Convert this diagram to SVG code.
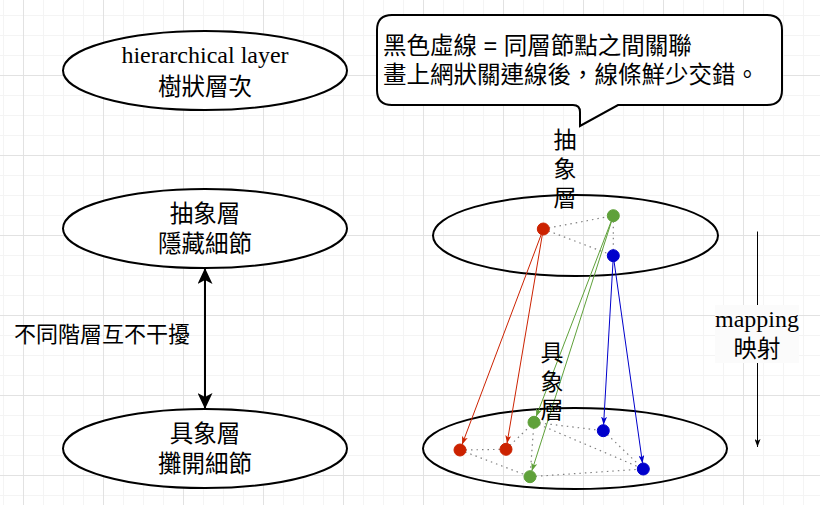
<svg xmlns="http://www.w3.org/2000/svg" width="820" height="505" viewBox="0 0 820 505">
<defs>
  <pattern id="grid" x="23" y="-5" width="80" height="80" patternUnits="userSpaceOnUse">
    <rect x="20" y="0" width="1" height="80" fill="#f4f4f4"/>
    <rect x="40" y="0" width="1" height="80" fill="#f4f4f4"/>
    <rect x="60" y="0" width="1" height="80" fill="#f4f4f4"/>
    <rect x="0" y="20" width="80" height="1" fill="#f4f4f4"/>
    <rect x="0" y="40" width="80" height="1" fill="#f4f4f4"/>
    <rect x="0" y="60" width="80" height="1" fill="#f4f4f4"/>
    <rect x="0" y="0" width="1" height="80" fill="#e2e2e2"/>
    <rect x="0" y="0" width="80" height="1" fill="#e2e2e2"/>
  </pattern>
  <marker id="bigArrow" viewBox="0 0 16 15" refX="15" refY="7.5" markerWidth="16" markerHeight="15" markerUnits="userSpaceOnUse" orient="auto-start-reverse">
    <path d="M0,0 L16,7.5 L0,15 L4,7.5 Z" fill="#000"/>
  </marker>
  <marker id="arrBlack" viewBox="0 0 8 6" refX="8" refY="3" markerWidth="8" markerHeight="6" markerUnits="userSpaceOnUse" orient="auto">
    <path d="M0,0 L8,3 L0,6 L2,3 Z" fill="#000"/>
  </marker>
  <marker id="arrRed" viewBox="0 0 8 6" refX="8" refY="3" markerWidth="8" markerHeight="6" markerUnits="userSpaceOnUse" orient="auto">
    <path d="M0,0 L8,3 L0,6 L2,3 Z" fill="#cc2200"/>
  </marker>
  <marker id="arrGreen" viewBox="0 0 8 6" refX="8" refY="3" markerWidth="8" markerHeight="6" markerUnits="userSpaceOnUse" orient="auto">
    <path d="M0,0 L8,3 L0,6 L2,3 Z" fill="#5fa13a"/>
  </marker>
  <marker id="arrBlue" viewBox="0 0 8 6" refX="8" refY="3" markerWidth="8" markerHeight="6" markerUnits="userSpaceOnUse" orient="auto">
    <path d="M0,0 L8,3 L0,6 L2,3 Z" fill="#0000cc"/>
  </marker>
</defs>
<style>
  .ell { fill: #fff; stroke: #000; stroke-width: 2; }
  .ellT { fill: none; stroke: #000; stroke-width: 2; }
  .cjk { font-family: "Liberation Sans", "Noto Sans CJK TC", "Noto Sans CJK SC", sans-serif; font-size: 23.5px; fill: #000; }
  .ser { font-family: "Liberation Serif", "Noto Sans CJK TC", serif; font-size: 24px; }
  .mid { text-anchor: middle; }
  .vert { font-family: "Noto Sans CJK TC", "Noto Sans CJK SC", sans-serif; font-size: 23px; fill: #000; writing-mode: vertical-rl; }
  .dot { fill: none; stroke: #808080; stroke-width: 1.2; stroke-dasharray: 1.5 4; }
  .red { fill: #cc2200; stroke: #cc2200; }
  .green { fill: #5fa13a; stroke: #5fa13a; }
  .blue { fill: #0000cc; stroke: #0000cc; }
  .mapR { stroke: #cc2200; stroke-width: 1; fill: none; marker-end: url(#arrRed); }
  .mapG { stroke: #5fa13a; stroke-width: 1; fill: none; marker-end: url(#arrGreen); }
  .mapB { stroke: #0000cc; stroke-width: 1; fill: none; marker-end: url(#arrBlue); }
</style>
<rect x="0" y="0" width="820" height="505" fill="#fff"/>
<rect x="0" y="0" width="820" height="505" fill="url(#grid)"/>

<g id="node-hierarchical">
  <ellipse class="ell" cx="205" cy="70.5" rx="142" ry="39.5"/>
  <text class="cjk mid" x="205" y="63"><tspan class="ser" x="205" y="63">hierarchical layer</tspan><tspan x="205" y="95">樹狀層次</tspan></text>
</g>
<g id="node-abstract">
  <ellipse class="ell" cx="205" cy="228.5" rx="142" ry="39.5"/>
  <text class="cjk mid" x="205" y="222"><tspan x="205" y="222">抽象層</tspan><tspan x="205" y="252">隱藏細節</tspan></text>
</g>
<g id="node-concrete">
  <ellipse class="ell" cx="205" cy="448.5" rx="142" ry="39.5"/>
  <text class="cjk mid" x="205" y="442"><tspan x="205" y="442">具象層</tspan><tspan x="205" y="472">攤開細節</tspan></text>
</g>

<g id="callout">
  <path d="M 392,15 L 767,15 Q 782,15 782,30 L 782,90 Q 782,105 767,105 L 618,105 L 580,126 L 580,112 Q 580,105 573,105 L 392,105 Q 377,105 377,90 L 377,30 Q 377,15 392,15 Z" fill="#fff" stroke="#000" stroke-width="2"/>
  <text class="cjk" x="383" y="54"><tspan x="383" y="54">黑色虛線 = 同層節點之間關聯</tspan><tspan x="383" y="82.5">畫上網狀關連線後，線條鮮少交錯。</tspan></text>
</g>

<g id="layer-abstract">
  <ellipse class="ellT" cx="575.5" cy="235.5" rx="142.5" ry="40.5"/>
</g>
<g id="layer-concrete">
  <ellipse class="ellT" cx="575" cy="448.5" rx="152" ry="40.5"/>
</g>

<g id="connectors">
  <line x1="205" y1="269" x2="205" y2="408" stroke="#000" stroke-width="2" marker-start="url(#bigArrow)" marker-end="url(#bigArrow)"/>
  <text class="cjk mid" x="102" y="342" style="font-size:22px">不同階層互不干擾</text>

  <line x1="757.5" y1="231.5" x2="757.5" y2="447" stroke="#000" stroke-width="1" marker-end="url(#arrBlack)"/>
  <rect x="715" y="305" width="84" height="58" fill="#fbfbfb"/>
  <text class="cjk mid" x="757" y="327"><tspan class="ser" x="757" y="327">mapping</tspan><tspan x="757" y="357">映射</tspan></text>

  <line class="dot" x1="543.3" y1="229" x2="613.3" y2="215.7"/>
  <line class="dot" x1="543.3" y1="229" x2="613.3" y2="255.7"/>
  <line class="dot" x1="613.3" y1="215.7" x2="613.3" y2="255.7"/>

  <line class="dot" x1="460" y1="450" x2="506" y2="449.3"/>
  <line class="dot" x1="460" y1="450" x2="530" y2="476.7"/>
  <line class="dot" x1="506" y1="449.3" x2="534" y2="422.3"/>
  <line class="dot" x1="534" y1="422.3" x2="530" y2="476.7"/>
  <line class="dot" x1="534" y1="422.3" x2="603.3" y2="430.7"/>
  <line class="dot" x1="534" y1="422.3" x2="643.3" y2="469"/>
  <line class="dot" x1="603.3" y1="430.7" x2="643.3" y2="469"/>
  <line class="dot" x1="530" y1="476.7" x2="643.3" y2="469"/>

  <line class="mapR" x1="541.2" y1="234.6" x2="462.1" y2="444.4"/>
  <line class="mapR" x1="542.3" y1="234.9" x2="507.0" y2="443.4"/>
  <line class="mapG" x1="611.2" y1="221.3" x2="536.1" y2="416.7"/>
  <line class="mapG" x1="611.5" y1="221.4" x2="531.8" y2="471.0"/>
  <line class="mapB" x1="613.0" y1="261.7" x2="603.6" y2="424.7"/>
  <line class="mapB" x1="614.1" y1="261.6" x2="642.5" y2="463.1"/>
</g>

<g id="nodes-abstract">
  <circle class="red" cx="543.3" cy="229" r="6"/>
  <circle class="green" cx="613.3" cy="215.7" r="6"/>
  <circle class="blue" cx="613.3" cy="255.7" r="6"/>
</g>
<g id="nodes-concrete">
  <circle class="red" cx="460" cy="450" r="6"/>
  <circle class="red" cx="506" cy="449.3" r="6"/>
  <circle class="green" cx="534" cy="422.3" r="6"/>
  <circle class="green" cx="530" cy="476.7" r="6"/>
  <circle class="blue" cx="603.3" cy="430.7" r="6"/>
  <circle class="blue" cx="643.3" cy="469" r="6"/>
</g>

<g id="label-abstract">
  <text class="vert" x="565" y="128" style="letter-spacing:6px">抽象層</text>
</g>
<g id="label-concrete">
  <text class="vert" x="552" y="341" style="letter-spacing:5.3px">具象層</text>
</g>
</svg>
